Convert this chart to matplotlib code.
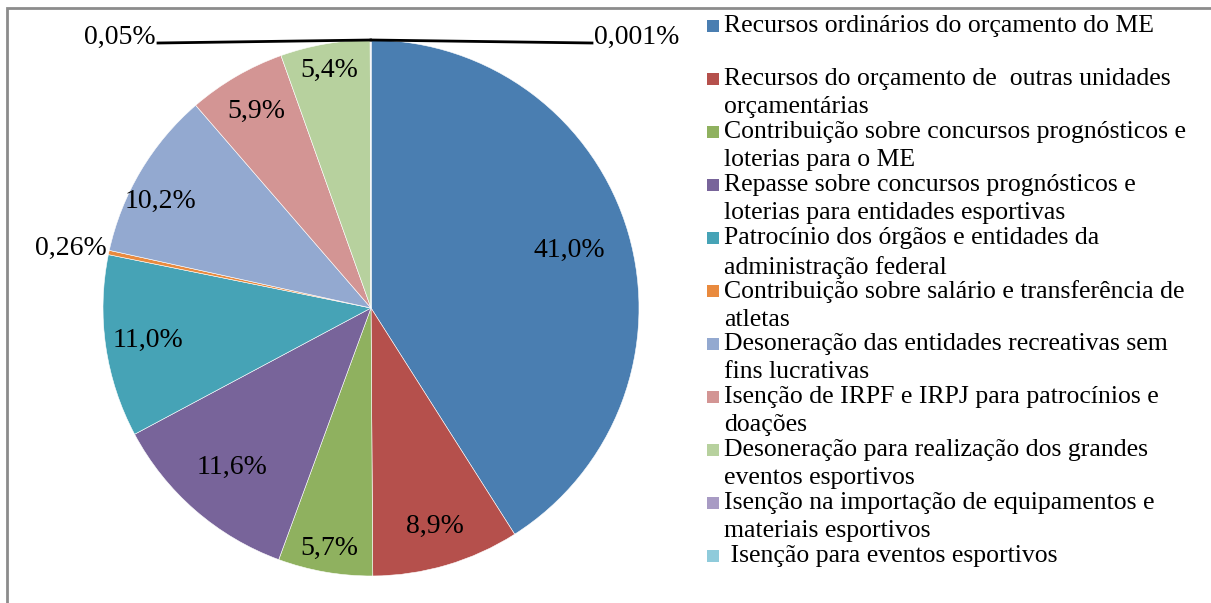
import matplotlib.pyplot as plt
from matplotlib.patches import Rectangle
import numpy as np

plt.rcParams['font.family'] = ['Liberation Serif', 'DejaVu Serif']

# dados (%)
categorias = [
    "Recursos ordinários do orçamento do ME",
    "Recursos do orçamento de  outras unidades\norçamentárias",
    "Contribuição sobre concursos prognósticos e\nloterias para o ME",
    "Repasse sobre concursos prognósticos e\nloterias para entidades esportivas",
    "Patrocínio dos órgãos e entidades da\nadministração federal",
    "Contribuição sobre salário e transferência de\natletas",
    "Desoneração das entidades recreativas sem\nfins lucrativas",
    "Isenção de IRPF e IRPJ para patrocínios e\ndoações",
    "Desoneração para realização dos grandes\neventos esportivos",
    "Isenção na importação de equipamentos e\nmateriais esportivos",
    " Isenção para eventos esportivos",
]
valores = [41.0, 8.9, 5.7, 11.6, 11.0, 0.26, 10.2, 5.9, 5.4, 0.05, 0.001]

cores = ['#4A7EB1', '#B5504C', '#8FB15F', '#78649A', '#46A3B6', '#E98A3E',
         '#93A9D0', '#D39594', '#B7D19E', '#A89BC4', '#8FCBDB']

W, H = 1211, 603
fig = plt.figure(figsize=(W / 100, H / 100), dpi=100)
ax = fig.add_axes([0, 0, 1, 1])

cx, cy, r = 371, H - 308, 268

wedges, _ = ax.pie(valores, colors=cores, startangle=90, counterclock=False,
                   center=(cx, cy), radius=r, frame=True,
                   wedgeprops=dict(edgecolor='white', linewidth=0.4))
ax.set_xlim(0, W)
ax.set_ylim(0, H)
ax.set_aspect('equal')
ax.axis('off')


def fmt(v):
    s = f"{v:.1f}" if v >= 1 else str(v)
    return s.replace('.', ',') + '%'


# distancia relativa dos rótulos internos
dist = [0.77, 0.85, 0.91, 0.79, 0.84, None, 0.88, 0.85, 0.90, None, None]
desvio = [0, 0, 0, 0, 0, 0, 4, 0, 0, 0, 0]  # graus
for i, (w, v) in enumerate(zip(wedges, valores)):
    ang = np.deg2rad((w.theta1 + w.theta2) / 2 + desvio[i])
    if dist[i] is not None:
        x = cx + dist[i] * r * np.cos(ang)
        y = cy + dist[i] * r * np.sin(ang)
        ax.text(x, y, fmt(v), ha='center', va='center', fontsize=20)

# rótulos externos
ang = np.deg2rad((wedges[5].theta1 + wedges[5].theta2) / 2)
ax.text(cx + r * np.cos(ang) - 2, cy + r * np.sin(ang) + 4, fmt(valores[5]),
        ha='right', va='center', fontsize=20)

for i, lx, ha in [(9, 158, 'right'), (10, 592, 'left')]:
    ang = np.deg2rad((wedges[i].theta1 + wedges[i].theta2) / 2)
    px, py = cx + r * np.cos(ang), cy + r * np.sin(ang)
    ly = H - 43
    ax.plot([px, lx], [py, ly], color='black', lw=2)
    ax.text(lx + (-2 if ha == 'right' else 2), H - 37, fmt(valores[i]),
            ha=ha, va='center', fontsize=20)

# legenda
for i, (c, lab) in enumerate(zip(cores, categorias)):
    y = H - (26 + i * 53)
    ax.add_patch(Rectangle((707, y - 6), 12, 12, color=c, lw=0))
    ax.text(724, y + 11, lab, ha='left', va='top', fontsize=18.5,
            linespacing=1.38)

# moldura
fig.add_artist(Rectangle((7 / W, -0.1), 1.2, 1.1 - 8 / H, transform=fig.transFigure,
                         fill=False, edgecolor='#8C8C8C', lw=2))

fig.savefig('out.png', dpi=100)
